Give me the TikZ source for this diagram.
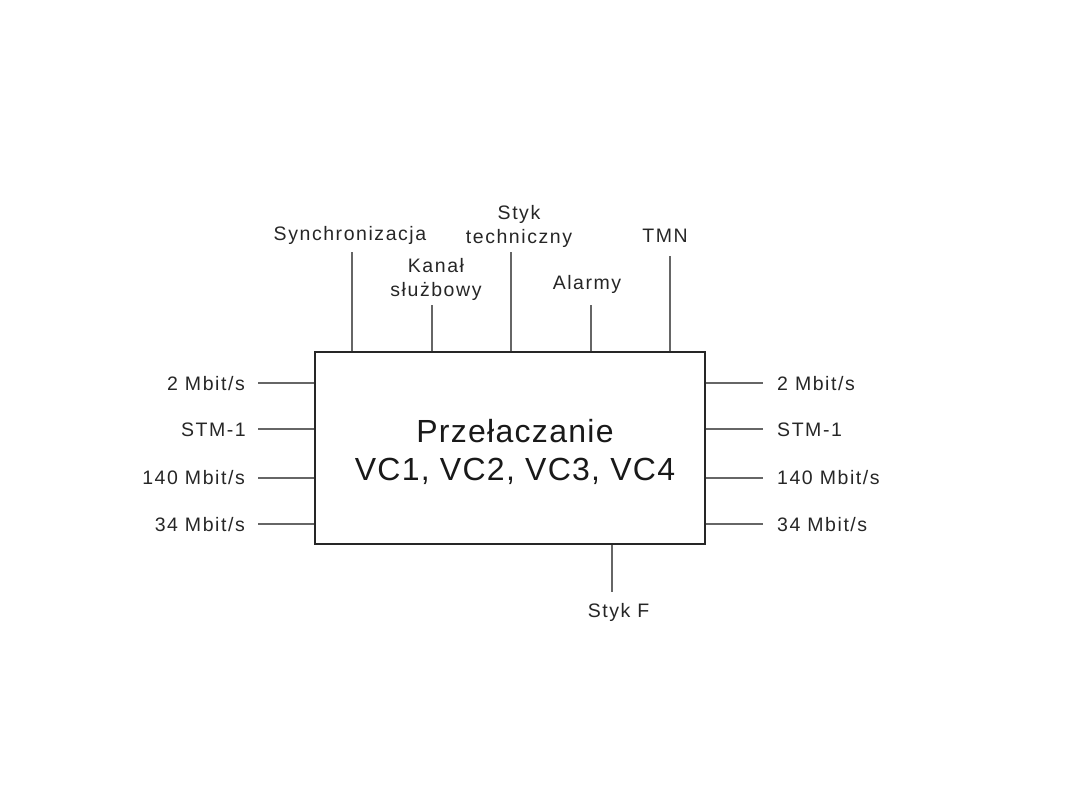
\documentclass[tikz,border=0pt]{standalone}
\usepackage{fontspec}
\setmainfont{Liberation Sans}
\newfontfamily\labfont[LetterSpace=8]{Liberation Sans}
\newfontfamily\titlefont[LetterSpace=4]{Liberation Sans}
\begin{document}
\begin{tikzpicture}[x=1pt,y=-1pt,
  lab/.style={inner sep=0pt,text=black!85,font=\labfont\fontsize{19.5}{24}\selectfont},
  stub/.style={draw=black!60,line width=2pt},
  boxstyle/.style={draw=black!85,line width=2pt,fill=white,minimum width=390pt,minimum height=192pt,inner sep=0pt}]
\useasboundingbox (0,0) rectangle (1080,810);
\node[boxstyle] (box) at (509.7,448.4) {};
\node[inner sep=0pt,anchor=base,align=center,text=black!90,font=\titlefont\fontsize{32}{39}\selectfont] (title) at (515,481) {Przełaczanie\\VC1, VC2, VC3, VC4};
% top
\coordinate (t1) at (352.3,251.7);
\coordinate (t2) at (431.7,305);
\coordinate (t3) at (511,251.7);
\coordinate (t4) at (590.7,305);
\coordinate (t5) at (670,255.7);
\foreach \c in {t1,t2,t3,t4,t5} \draw[stub] (box.north -| \c) -- (\c);
\node[lab,anchor=base] (lsync) at (350,241) {Synchronizacja};
\node[lab,anchor=base,align=center] (lkanal) at (436,297) {Kanał\\służbowy};
\node[lab,anchor=base,align=center] (lstyk) at (519,244) {Styk\\techniczny};
\node[lab,anchor=base] (lalarm) at (587,290) {Alarmy};
\node[lab,anchor=base] (ltmn) at (665,243) {TMN};
% left
\coordinate (l1) at (257.7,383.3);
\coordinate (l2) at (257.7,429.3);
\coordinate (l3) at (257.7,477.7);
\coordinate (l4) at (257.7,524.3);
\foreach \c in {l1,l2,l3,l4} \draw[stub] (box.west |- \c) -- (\c);
\node[lab,anchor=base east] (la) at (245,390.5) {2 Mbit/s};
\node[lab,anchor=base east] (lb) at (246,436.5) {STM-1};
\node[lab,anchor=base east] (lc) at (245,485) {140 Mbit/s};
\node[lab,anchor=base east] (ld) at (245,531.5) {34 Mbit/s};
% right
\coordinate (r1) at (762.7,383.3);
\coordinate (r2) at (762.7,429.3);
\coordinate (r3) at (762.7,477.7);
\coordinate (r4) at (762.7,524.3);
\foreach \c in {r1,r2,r3,r4} \draw[stub] (box.east |- \c) -- (\c);
\node[lab,anchor=base west] (ra) at (777,390.5) {2 Mbit/s};
\node[lab,anchor=base west] (rb) at (777,436.5) {STM-1};
\node[lab,anchor=base west] (rc) at (777,485) {140 Mbit/s};
\node[lab,anchor=base west] (rd) at (777,531.5) {34 Mbit/s};
% bottom
\coordinate (b1) at (611.7,591.7);
\draw[stub] (box.south -| b1) -- (b1);
\node[lab,anchor=base] (lstykf) at (618.5,617.5) {Styk F};
\end{tikzpicture}
\end{document}
